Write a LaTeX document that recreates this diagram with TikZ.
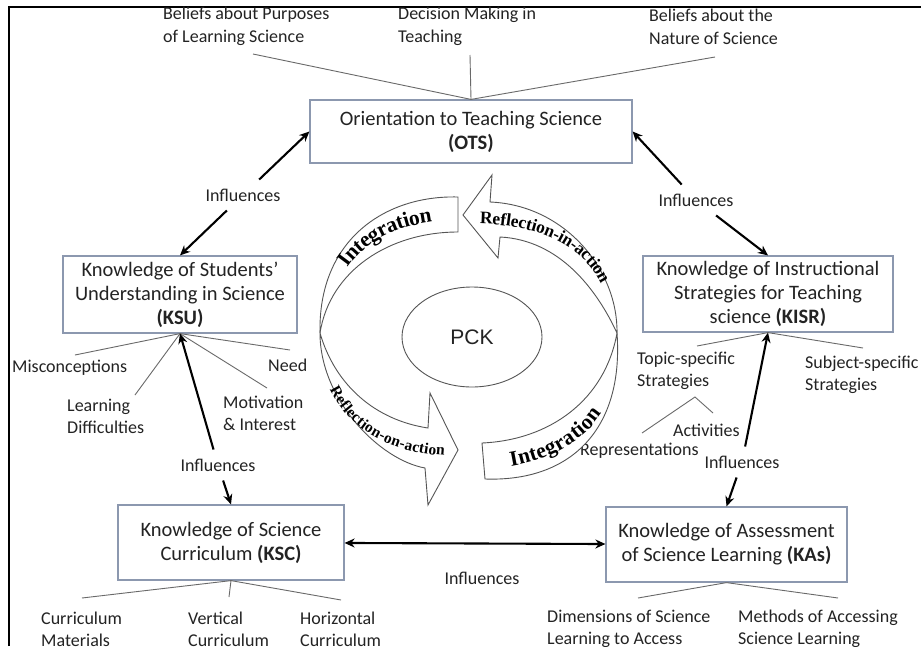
\documentclass[tikz,border=0pt]{standalone}
\usepackage{fontspec}
\setmainfont{Carlito}
\newfontfamily\bandserif{Liberation Serif}
\newfontfamily\pcksans{Liberation Sans}
\usetikzlibrary{arrows.meta,decorations.text,shapes.geometric}
\definecolor{boxline}{RGB}{140,152,175}
\definecolor{txt}{RGB}{35,35,35}
\definecolor{spokec}{RGB}{105,105,105}
\definecolor{ringc}{RGB}{85,85,85}
\newcommand\bandA{\bandserif\bfseries\fontsize{21.5}{21.5}\selectfont}
\newcommand\bandB{\bandserif\bfseries\fontsize{17.5}{17.5}\selectfont}
\newcommand\bandC{\bandserif\bfseries\fontsize{15.5}{15.5}\selectfont}
\begin{document}
\begin{tikzpicture}[x=1pt,y=-1pt,
  kbox/.style={draw=boxline, line width=1.2pt, align=center, text=txt, font=\fontsize{20.5}{24}\selectfont, inner sep=0pt},
  lbl/.style={align=left, anchor=west, text=txt, font=\fontsize{18}{22}\selectfont, inner sep=0pt},
  toplbl/.style={lbl, font=\fontsize{18}{23}\selectfont},
  infltext/.style={text=txt, font=\fontsize{18}{22}\selectfont, inner sep=9pt},
  spoke/.style={draw=spokec, line width=0.9pt},
  infl/.style={draw=black, line width=2.1pt, -{Stealth[length=10pt,width=9pt]}},
  band/.style={draw=ringc, line width=0.9pt, fill=white},
]
\useasboundingbox (0,0) rectangle (921,646);
\fill[white] (0,0) rectangle (921,646);
\draw[line width=2pt] (9,646) -- (9,7) -- (921,7);

% boxes
\node[kbox, minimum width=322pt, minimum height=63pt] (ots) at (471,131.5) {Orientation to Teaching Science\\\textbf{(OTS)}};
\node[kbox, minimum width=234pt, minimum height=77pt] (ksu) at (180,294.5) {Knowledge of Students’\\Understanding in Science\\\textbf{(KSU)}};
\node[kbox, minimum width=250pt, minimum height=76pt] (kisr) at (768,294) {Knowledge of Instructional\\Strategies for Teaching\\science \textbf{(KISR)}};
\node[kbox, minimum width=226pt, minimum height=75pt] (ksc) at (231,542.5) {Knowledge of Science\\Curriculum \textbf{(KSC)}};
\node[kbox, minimum width=241pt, minimum height=75pt] (kas) at (726.5,544.5) {Knowledge of Assessment\\of Science Learning \textbf{(KAs)}};

% top labels
\node[toplbl] (lb1) at (163,26.5) {Beliefs about Purposes\\of Learning Science};
\node[toplbl] (lb2) at (398,26.5) {Decision Making in\\Teaching};
\node[toplbl] (lb3) at (649,26.5) {Beliefs about the\\Nature of Science};
\coordinate (c1) at (253,54);
\coordinate (c2) at (470,55);
\coordinate (c3) at (715,57);
\draw[spoke] (c1) -- (ots.north);
\draw[spoke] (c2) -- (ots.north);
\draw[spoke] (c3) -- (ots.north);

% KSU labels
\node[lbl] (mis) at (12,368) {Misconceptions};
\node[lbl] (need) at (268,365) {Need};
\node[lbl] (ld) at (67,416) {Learning\\Difficulties};
\node[lbl] (mot) at (223,413) {Motivation\\\& Interest};
\coordinate (kmis) at (75,355);
\coordinate (kld) at (135,395);
\coordinate (kmot) at (267,388);
\coordinate (kneed) at (290,350);
\draw[spoke] (kmis) -- (ksu.south);
\draw[spoke] (kld) -- (ksu.south);
\draw[spoke] (kmot) -- (ksu.south);
\draw[spoke] (kneed) -- (ksu.south);

% KISR labels
\node[lbl] (tps) at (637,371) {Topic-specific\\Strategies};
\node[lbl] (sss) at (805,375) {Subject-specific\\Strategies};
\node[lbl] (act) at (673,430) {Activities};
\node[lbl] (rep) at (580,451) {Representations};
\coordinate (ktps) at (697,346);
\coordinate (ksss) at (863,348);
\draw[spoke] (ktps) -- (kisr.south);
\draw[spoke] (ksss) -- (kisr.south);
\coordinate (krep) at (642,433);
\coordinate (ktop) at (695,397);
\coordinate (kact) at (713,413);
\draw[spoke] (krep) -- (ktop) -- (kact);

% KSC labels
\node[lbl] (cm) at (41,629) {Curriculum\\Materials};
\node[lbl] (vc) at (188,629) {Vertical\\Curriculum};
\node[lbl] (hc) at (300,629) {Horizontal\\Curriculum};
\coordinate (kcm) at (82,598);
\coordinate (kvc) at (229,597);
\coordinate (khc) at (341,600);
\draw[spoke] (kcm) -- (ksc.south);
\draw[spoke] (kvc) -- (ksc.south);
\draw[spoke] (khc) -- (ksc.south);

% KAs labels
\node[lbl] (dim) at (547,629) {Dimensions of Science\\Learning to Access};
\node[lbl] (meth) at (738,629) {Methods of Accessing\\Science Learning};
\coordinate (kdim) at (638,598);
\coordinate (kmeth) at (838,598);
\draw[spoke] (kdim) -- (kas.south);
\draw[spoke] (kmeth) -- (kas.south);

% Influences
\node[infltext] (inflL) at (243,195) {Influences};
\node[infltext] (inflR) at (696,200) {Influences};
\node[infltext] (inflKSU) at (218,465) {Influences};
\node[infltext] (inflKISR) at (742,462) {Influences};
\node[infltext] (inflB) at (482,578) {Influences};
\draw[infl] (inflL) -- (ots.west);
\draw[infl] (inflL) -- (ksu.north);
\draw[infl] (inflR) -- (ots.east);
\draw[infl] (inflR) -- (kisr.north);
\draw[infl] (inflKSU) -- (ksu.south);
\draw[infl] (inflKSU) -- (ksc.north);
\draw[infl] (inflKISR) -- (kisr.south);
\draw[infl] (inflKISR) -- (kas.north);
\draw[draw=black, line width=2.1pt, {Stealth[length=10pt,width=9pt]}-{Stealth[length=10pt,width=9pt]}] (ksc) -- (kas);

% central cycle
\node[draw=ringc, line width=0.9pt, ellipse, minimum width=140pt, minimum height=100pt, text=txt, font=\pcksans\fontsize{21}{21}\selectfont] (pck) at (472,337) {PCK};

\draw[band] (320,333) .. controls (318,240) and (385,195) .. (458,197) -- (458,232) .. controls (390,232) and (330,270) .. (320,333) -- cycle;
\draw[band] (617,333) .. controls (618,270) and (565,205) .. (490,202) -- (492,175) -- (463,215) -- (498,258) -- (500,237) .. controls (560,240) and (597,290) .. (617,333) -- cycle;
\draw[band] (320,333) .. controls (335,385) and (375,420) .. (428,428) -- (430,393) -- (458,450) -- (428,505) -- (425,468) .. controls (380,460) and (320,400) .. (320,333) -- cycle;
\draw[band] (617,333) .. controls (624,430) and (570,482) .. (485,479) -- (482,443) .. controls (550,440) and (605,400) .. (617,333) -- cycle;

\path[decorate, decoration={text along path, text={|\bandA|Integration}, text align=center, raise=-6pt}] (330,292) .. controls (345,240) and (395,214) .. (462,214);
\path[decorate, decoration={text along path, text={|\bandB|Reflection-in-action}, text align={align=left, left indent=10pt}, raise=-5pt}] (470,219) .. controls (565,217) and (616,262) .. (617,333);
\path[decorate, decoration={text along path, text={|\bandC|Reflection-on-action}, text align=center, raise=-5pt}] (330,378) .. controls (350,428) and (395,450) .. (455,451);
\path[decorate, decoration={text along path, text={|\bandA|Integration}, text align=center, raise=-6pt}] (486,463) .. controls (545,461) and (593,432) .. (608,388);
\end{tikzpicture}
\end{document}
